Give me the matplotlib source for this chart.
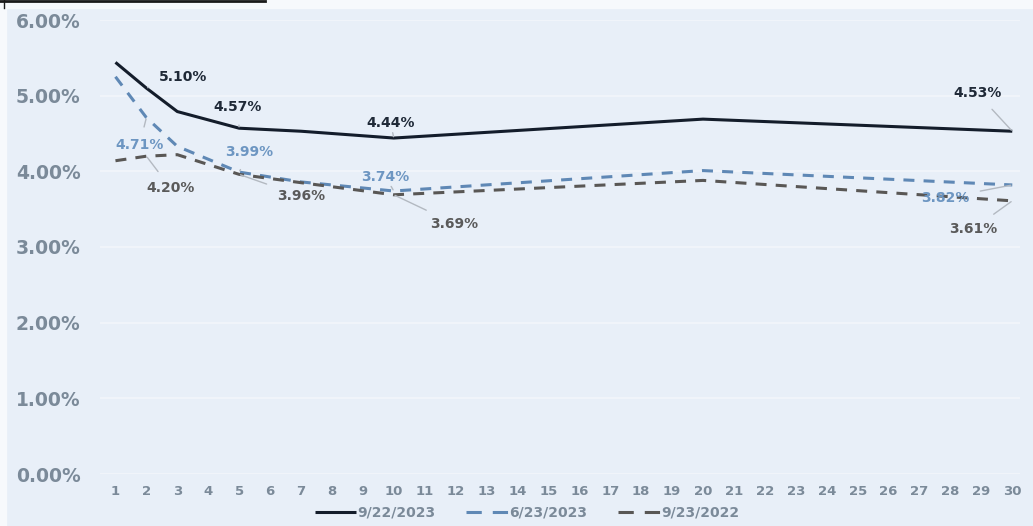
import matplotlib
matplotlib.use("Agg")
import matplotlib.pyplot as plt
from matplotlib.lines import Line2D
from matplotlib.patches import Rectangle

# Treasury yield curves (maturity in years -> yield %)
maturities = [1, 2, 3, 5, 7, 10, 20, 30]
yields_2023_09_22 = [5.44, 5.10, 4.79, 4.57, 4.53, 4.44, 4.69, 4.53]
yields_2023_06_23 = [5.25, 4.71, 4.33, 3.99, 3.86, 3.74, 4.01, 3.82]
yields_2022_09_23 = [4.14, 4.20, 4.22, 3.96, 3.85, 3.69, 3.88, 3.61]
series_names = ["9/22/2023", "6/23/2023", "9/23/2022"]
x_ticks = list(range(1, 31))
y_ticks = [0, 1, 2, 3, 4, 5, 6]

# labelled points: (series index, maturity, label position x, label position y)
labelled = [
    (0, 2, 3.2, 5.25), (0, 5, 4.95, 4.85), (0, 10, 9.9, 4.64), (0, 30, 28.87, 5.03),
    (1, 2, 1.78, 4.35), (1, 5, 5.33, 4.25), (1, 10, 9.73, 3.93), (1, 30, 27.83, 3.65),
    (2, 2, 2.78, 3.78), (2, 5, 7.01, 3.67), (2, 10, 11.96, 3.31), (2, 30, 28.74, 3.24),
]

bg = "#e8eff8"
grid_c = "#f2f6fb"
tick_c = "#7b8a99"
line_colors = ["#141d2b", "#5f88b5", "#595755"]
label_colors = ["#1f2937", "#6d96c2", "#5a5a5a"]
styles = [dict(ls="-"), dict(ls=(0, (3.6, 3.0))), dict(ls=(0, (3.6, 3.0)))]
legend_styles = [dict(ls="-"), dict(ls=(0, (5.0, 3.6))), dict(ls=(0, (5.0, 3.6)))]
all_series = [yields_2023_09_22, yields_2023_06_23, yields_2022_09_23]

fig = plt.figure(figsize=(10.33, 5.26), dpi=100, facecolor=bg)
ax = fig.add_axes([100 / 1033, 52 / 526, 920 / 1033, 454 / 526])
ax.set_facecolor(bg)

for vals, c, st, name in zip(all_series, line_colors, styles, series_names):
    ax.plot(maturities, vals, color=c, lw=2.2, label=name, solid_capstyle="butt", **st)

for si, m, lx, ly in labelled:
    v = all_series[si][maturities.index(m)]
    ax.annotate(f"{v:.2f}%", xy=(m, v), xytext=(lx, ly), textcoords="data",
                ha="center", va="center", fontsize=10, fontweight="bold",
                color=label_colors[si], family="DejaVu Sans",
                arrowprops=dict(arrowstyle="-", color="#b3b9c1", lw=1.0,
                                shrinkA=6, shrinkB=1))

ax.set_xlim(0.5, 30.25)
ax.set_ylim(0, 6)
ax.set_xticks(x_ticks)
ax.set_xticklabels([str(t) for t in x_ticks], fontsize=9.5, fontweight="bold", color=tick_c)
ax.set_yticks(y_ticks)
ax.set_yticklabels([f"{t:.2f}%" for t in y_ticks], fontsize=13.5, fontweight="bold", color=tick_c)
ax.tick_params(axis="both", length=0)
ax.tick_params(axis="x", pad=8)
ax.tick_params(axis="y", pad=14)
ax.grid(axis="y", color=grid_c, lw=1.2)
for s in ax.spines.values():
    s.set_visible(False)

handles = [Line2D([], [], color=c, lw=2.2, solid_capstyle="butt", dash_capstyle="butt", **st)
           for c, st in zip(line_colors, legend_styles)]
leg = fig.legend(handles, series_names, loc="center", bbox_to_anchor=(0.51, 13 / 526),
                 ncol=3, frameon=False, handlelength=3.0, columnspacing=2.2,
                 handletextpad=0.1, prop=dict(size=10, weight="bold"))
for t in leg.get_texts():
    t.set_color(tick_c)

# page edge: white margins and a dark rule at the top left
fig.patches.append(Rectangle((0, 1 - 8 / 526), 1, 8 / 526, transform=fig.transFigure,
                             color="#f7f9fc", zorder=-1))
fig.patches.append(Rectangle((0, 0), 6 / 1033, 1, transform=fig.transFigure,
                             color="#f7f9fc", zorder=-1))
fig.lines.append(Line2D([0, 265 / 1033], [1 - 1 / 526, 1 - 1 / 526], transform=fig.transFigure,
                        color="#1a1a1a", lw=2))
fig.lines.append(Line2D([4 / 1033, 4 / 1033], [1, 1 - 8 / 526], transform=fig.transFigure,
                        color="#1a1a1a", lw=1))

fig.savefig("out.png", dpi=100, facecolor=bg)
